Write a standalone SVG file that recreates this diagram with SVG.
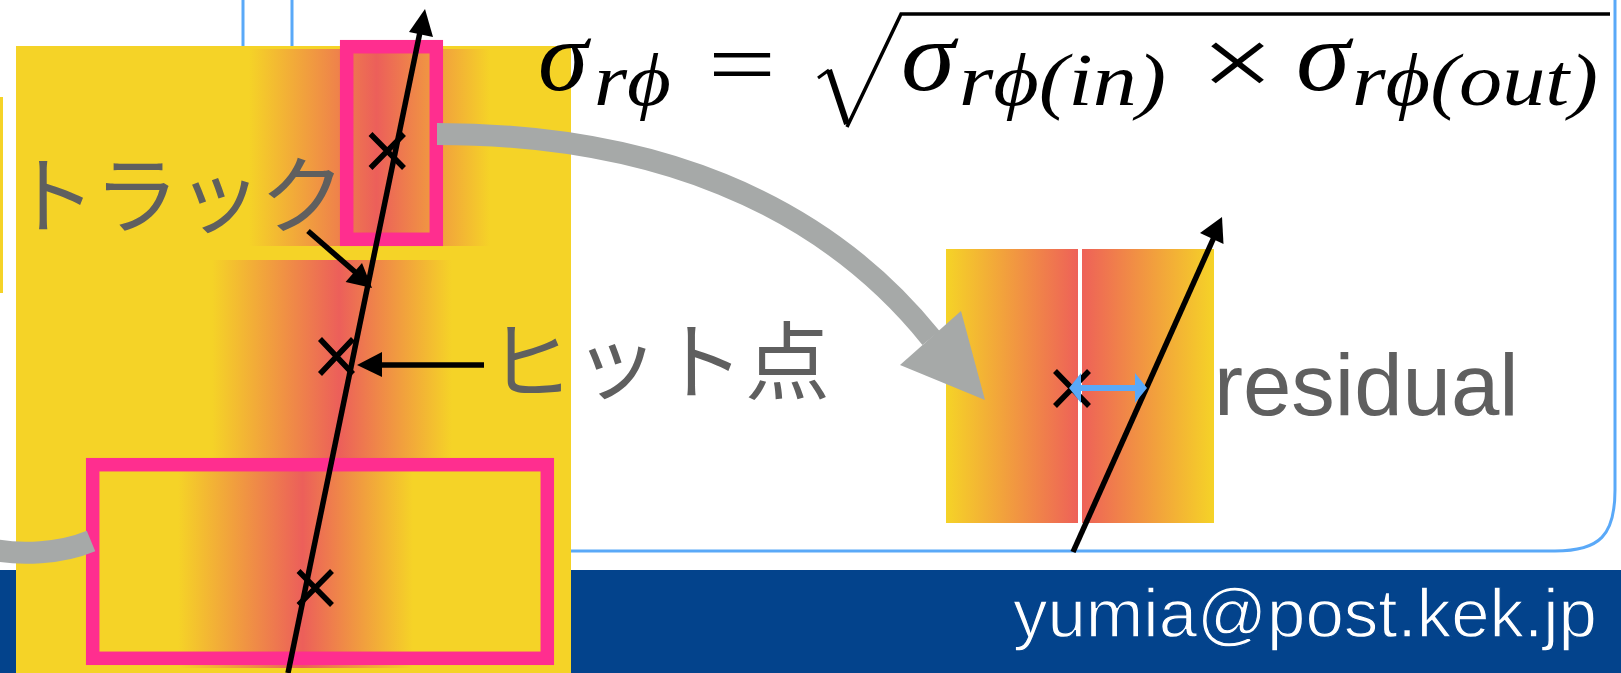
<svg xmlns="http://www.w3.org/2000/svg" width="1621" height="673" viewBox="0 0 1621 673">
<style>
.blue{fill:none;stroke:#5AA9F8;stroke-width:3}
.pink{fill:none;stroke:#FF2E8F;stroke-width:13.5}
.ln{fill:none;stroke:#000;stroke-width:5.5}
.gray{fill:none;stroke:#A6A9A8;stroke-width:22}
.jp{font-family:"Noto Sans CJK JP",sans-serif;font-weight:400;font-size:85px;fill:#5F5F5F}
.m{font-family:"Liberation Serif",serif;font-style:italic;fill:#000}
.s{font-size:100px}.t{font-size:74px}
</style>
<defs>
<linearGradient id="g1" x1="0" x2="1" y1="0" y2="0"><stop offset="0" stop-color="#F5D327"/><stop offset=".53" stop-color="#EC5F5A"/><stop offset="1" stop-color="#F5D327"/></linearGradient>
<linearGradient id="gl" x1="0" x2="1" y1="0" y2="0"><stop offset="0" stop-color="#F5D327"/><stop offset="1" stop-color="#EE6158"/></linearGradient>
<linearGradient id="gr" x1="0" x2="1" y1="0" y2="0"><stop offset="0" stop-color="#EE6158"/><stop offset="1" stop-color="#F5D327"/></linearGradient>
</defs>
<rect width="1621" height="673" fill="#fff"/>
<g id="panel">
<path class="blue" d="M243,0V46M292,0V46"/>
<path class="blue" d="M571,551H1555C1600,551 1615,535 1615,490V0"/>
</g>
<rect id="footer" x="0" y="570" width="1621" height="103" fill="#03438C"/>
<rect id="side-strip" x="0" y="97" width="3" height="196" fill="#F5D327"/>
<g id="detector">
<rect x="16" y="46" width="555" height="627" fill="#F5D327"/>
<rect x="249" y="49" width="241" height="197" fill="url(#g1)"/>
<rect x="212" y="260" width="240" height="198" fill="url(#g1)"/>
<rect x="178" y="458" width="235" height="210" fill="url(#g1)"/>
</g>
<g id="detail">
<rect x="946" y="249" width="132" height="274" fill="url(#gl)"/>
<rect x="1082" y="249" width="132" height="274" fill="url(#gr)"/>
</g>
<g id="pink-boxes">
<rect class="pink" x="346.7" y="46.7" width="89.600" height="192.6"/>
<rect class="pink" x="92.700" y="464.7" width="454.6" height="193.6"/>
</g>
<g id="hits">
<path class="ln" d="M370.500,134L404,168M404,134L370.500,168"/>
<path class="ln" d="M320,339L353,374M353,339L320,374"/>
<path class="ln" d="M298.500,571L332,605M332,571L298.500,605"/>
<path class="ln" d="M1055,371L1089,406M1089,371L1055,406"/>
</g>
<g id="connectors">
<path class="gray" d="M437,134C650,134 820,200 931,338"/>
<path d="M985,400L961,311L900,365Z" fill="#A6A9A8"/>
<path class="gray" d="M-5,550C20,555 60,554 91,541"/>
<path class="ln" d="M288,673L420,32"/>
<path d="M425,9L409,32L433,37Z"/>
<path class="ln" d="M308,231L362,278"/>
<path d="M372,288L362,263L345.600,282Z"/>
<path class="ln" d="M484,365H375"/>
<path d="M357,365L382,352V377Z"/>
<path class="ln" d="M1073,552L1215,235"/>
<path d="M1222,217L1200,233L1223.500,244Z"/>
<path d="M1075,388H1141" fill="none" stroke="#5AA9F8" stroke-width="6"/>
<path d="M1069,388L1081,373V403Z M1147,388L1135,373V403Z" fill="#5AA9F8"/>
</g>
<g id="labels">
<text class="jp" x="11" y="227" textLength="334" lengthAdjust="spacing">トラック</text>
<text class="jp" x="488" y="393" textLength="342" lengthAdjust="spacing">ヒット点</text>
<text x="1214" y="415" font-family="Liberation Sans,sans-serif" font-size="87" fill="#5F5F5F">residual</text>
<text x="1013" y="637" font-family="Liberation Sans,sans-serif" font-size="69" fill="#fff" stroke="#03438C" stroke-width="1.3">yumia@post.kek.jp</text>
</g>
<g id="formula">
<text class="m s" x="538" y="90" textLength="50" lengthAdjust="spacingAndGlyphs">σ</text>
<text class="m t" x="594" y="105" textLength="77" lengthAdjust="spacingAndGlyphs">rϕ</text>
<text x="708" y="95" font-family="Liberation Serif,serif" font-size="90" textLength="68" lengthAdjust="spacingAndGlyphs">=</text>
<path d="M818,78L829,70" fill="none" stroke="#000" stroke-width="3"/>
<path d="M829,70L847,124" fill="none" stroke="#000" stroke-width="6"/>
<path d="M847,127L901,14H1610" fill="none" stroke="#000" stroke-width="3.500"/>
<text class="m s" x="901" y="90" textLength="54" lengthAdjust="spacingAndGlyphs">σ</text>
<text class="m t" x="959" y="105" textLength="207" lengthAdjust="spacingAndGlyphs">rϕ(in)</text>
<text x="1201" y="96" font-family="Liberation Serif,serif" font-size="100" textLength="73" lengthAdjust="spacingAndGlyphs">×</text>
<text class="m s" x="1296" y="90" textLength="54" lengthAdjust="spacingAndGlyphs">σ</text>
<text class="m t" x="1352" y="105" textLength="246" lengthAdjust="spacingAndGlyphs">rϕ(out)</text>
</g>
</svg>
